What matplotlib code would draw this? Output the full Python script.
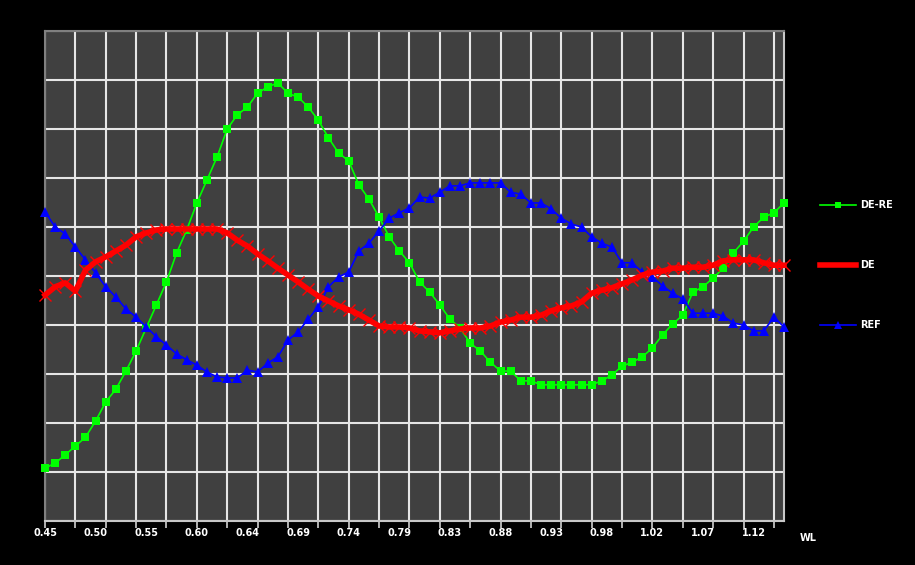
import matplotlib
matplotlib.use("Agg")
import matplotlib.pyplot as plt
from matplotlib.lines import Line2D
from matplotlib.transforms import blended_transform_factory

# tick labels placed at every 5th sample
tick_labels = ["0.45", "0.50", "0.55", "0.60", "0.64", "0.69", "0.74", "0.79",
               "0.83", "0.88", "0.93", "0.98", "1.02", "1.07", "1.12"]

de_re = [10.8, 11.8, 13.5, 15.3, 17.1, 20.4, 24.3, 26.9, 30.6, 34.7,
         39.4, 44.1, 48.8, 54.7, 59.4, 64.9, 69.6, 74.3, 80.0, 82.9,
         84.5, 87.3, 88.6, 89.4, 87.3, 86.5, 84.5, 81.8, 78.2, 75.1,
         73.5, 68.6, 65.7, 62.0, 58.0, 55.1, 52.7, 48.8, 46.7, 44.1,
         41.2, 39.4, 36.3, 34.7, 32.4, 30.6, 30.6, 28.6, 28.6, 27.8,
         27.8, 27.8, 27.8, 27.8, 27.8, 28.6, 29.8, 31.6, 32.4, 33.5,
         35.3, 38.0, 40.2, 42.0, 46.7, 47.8, 49.6, 51.6, 54.7, 57.1,
         60.0, 62.0, 62.9, 64.9]

de = [46.1, 47.8, 48.6, 46.9, 51.2, 52.9, 53.9, 55.1, 56.3, 58.0,
      58.8, 59.4, 59.6, 59.6, 59.6, 59.6, 59.6, 59.6, 58.8, 57.3,
      56.1, 54.5, 53.1, 51.6, 50.2, 48.8, 47.3, 45.9, 44.9, 43.9,
      43.1, 42.2, 41.0, 39.8, 39.6, 39.6, 39.4, 38.8, 38.6, 38.4,
      38.8, 39.2, 39.4, 39.4, 39.8, 40.6, 41.0, 41.6, 41.6, 42.0,
      42.9, 43.5, 43.9, 44.7, 46.5, 47.1, 47.6, 48.4, 49.2, 50.2,
      50.8, 51.0, 51.6, 51.6, 51.8, 51.8, 52.2, 53.1, 53.3, 53.3,
      53.3, 52.7, 52.2, 52.2]

ref = [63.1, 60.0, 58.6, 55.9, 53.3, 50.6, 47.8, 45.7, 43.3, 41.6,
       39.6, 37.6, 35.9, 34.1, 32.9, 31.8, 30.4, 29.4, 29.2, 29.2,
       30.8, 30.4, 32.2, 33.5, 36.9, 38.6, 41.2, 43.7, 47.8, 49.8,
       50.8, 55.1, 56.7, 59.2, 61.8, 62.9, 63.9, 66.1, 65.9, 67.1,
       68.4, 68.4, 69.0, 69.0, 69.0, 69.0, 67.1, 66.7, 64.9, 64.9,
       63.7, 61.8, 60.6, 60.0, 58.0, 56.7, 55.9, 52.7, 52.7, 50.8,
       49.8, 48.0, 46.5, 45.3, 42.4, 42.4, 42.4, 41.8, 40.4, 40.0,
       38.8, 38.8, 41.6, 39.6]

x = list(range(len(de_re)))

W, H = 915, 565
fig = plt.figure(figsize=(W / 100, H / 100), dpi=100, facecolor="black")
ax = fig.add_axes([45 / W, (H - 521) / H, (784 - 45) / W, 490 / H])
ax.set_facecolor("#404040")

ax.set_xlim(0, len(x) - 1)
ax.set_ylim(0, 100)

# grid
ax.set_xticks(list(range(0, len(x), 3)))
ax.set_xticklabels([])
ax.set_yticks(list(range(0, 101, 10)))
ax.set_yticklabels([])
ax.grid(True, color="#e6e6e6", linewidth=1.5)
ax.set_axisbelow(True)
ax.tick_params(axis="x", which="major", length=5, color="#d0d0d0", width=1.2)
ax.tick_params(axis="y", which="both", length=0)

# labels every 5th sample
trans = blended_transform_factory(ax.transData, fig.transFigure)
for i, lab in enumerate(tick_labels):
    ax.text(5 * i, (H - 533) / H, lab, transform=trans, color="white",
            fontsize=7, fontweight="bold", ha="center", va="center",
            clip_on=False)

for side in ["left", "top"]:
    ax.spines[side].set_color("#808080")
    ax.spines[side].set_linewidth(1.5)
for side in ["right", "bottom"]:
    ax.spines[side].set_color("#c8c8c8")
    ax.spines[side].set_linewidth(1.5)

ax.plot(x, de_re, color="#00ff00", linewidth=1.2, marker="s", markersize=5.5,
        markeredgewidth=0, zorder=3, clip_on=False)
ax.plot(x, ref, color="#0000ff", linewidth=1.2, marker="^", markersize=7,
        markeredgewidth=0, zorder=4, clip_on=False)
ax.plot(x, de, color="#ff0000", linewidth=4, marker="x", markersize=9,
        markeredgewidth=1, zorder=5, clip_on=False)

# legend (outside, right)
def leg_entry(y_px, color, lw, marker, ms, label):
    yf = (H - y_px) / H
    fig.add_artist(Line2D([820 / W, 856 / W], [yf, yf], color=color, linewidth=lw,
                          transform=fig.transFigure))
    if marker:
        fig.add_artist(Line2D([838 / W], [yf], color=color, marker=marker,
                              markersize=ms, markeredgewidth=0, linestyle="none",
                              transform=fig.transFigure))
    fig.text(860 / W, yf, label, color="white", fontsize=7, fontweight="bold",
             va="center", ha="left")

leg_entry(205, "#00ff00", 1.2, "s", 5, "DE-RE")
leg_entry(265, "#ff0000", 4, None, 0, "DE")
leg_entry(325, "#0000ff", 1.2, "^", 6, "REF")

fig.text(808 / W, (H - 538) / H, "WL", color="white", fontsize=7,
         fontweight="bold", va="center", ha="center")

fig.savefig("out.png", dpi=100, facecolor="black")
